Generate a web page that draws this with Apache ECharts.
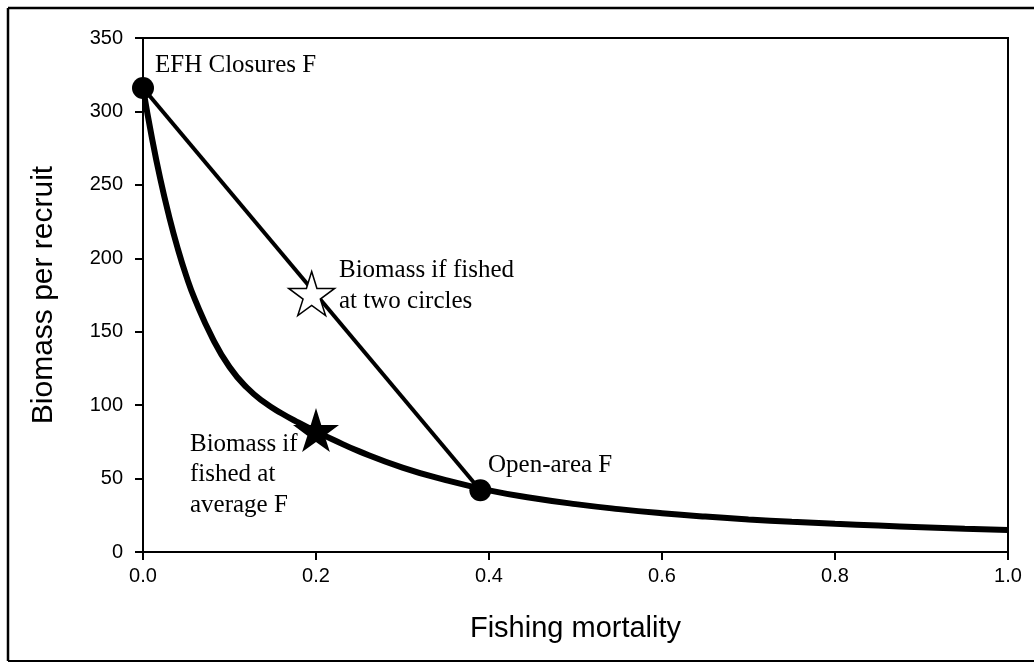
<!DOCTYPE html>
<html>
<head>
<meta charset="utf-8">
<script src="https://cdn.jsdelivr.net/npm/echarts@6/dist/echarts.min.js"></script>
<style>
  html, body { margin: 0; padding: 0; background: #fff; }
  #chart { width: 1034px; height: 663px; }
</style>
</head>
<body>
<div id="chart"></div>
<script>
// biomass per recruit curve
const fishingF = [0, 0.01, 0.02, 0.03, 0.04, 0.05, 0.06, 0.08, 0.1, 0.12, 0.14, 0.16, 0.18, 0.2, 0.22, 0.25, 0.3, 0.35, 0.4, 0.45, 0.5, 0.55, 0.6, 0.65, 0.7, 0.75, 0.8, 0.85, 0.9, 0.95, 1.0];
const biomass = [316, 283, 254, 229, 207, 188, 172, 146, 126, 112, 102, 94.5, 88, 82, 76.4, 68.5, 57.5, 49, 42, 36.8, 32.6, 29.2, 26.4, 24.1, 22.2, 20.6, 19.2, 18, 16.9, 15.9, 15];

// the two areas (closures and open area) joined by a straight line
const circleF = [0, 0.39];
const circleB = [316, 42];

// stars
const twoCirclesStar = [0.195, 176];
const averageStar = [0.2, 83];

const xTicks = [0, 0.2, 0.4, 0.6, 0.8, 1.0];
const yTicks = [0, 50, 100, 150, 200, 250, 300, 350];

const starPath = "path://M50,0 L61,35 L98,35 L68,57 L79,91 L50,70 L21,91 L32,57 L2,35 L39,35 Z";
const serif = "'Liberation Serif', 'Times New Roman', serif";
const sans = "'Liberation Sans', Arial, sans-serif";

const chart = echarts.init(document.getElementById("chart"));

function note(text, x, y) {
  return {
    type: "text",
    x: x,
    y: y,
    style: { text: text, font: "25px " + serif, fill: "#000", verticalAlign: "middle", align: "left" },
    z: 10,
  };
}

const option = {
  animation: false,
  backgroundColor: "#fff",
  grid: {
    left: 143, right: 26, top: 38, bottom: 111,
    show: true, borderColor: "#000", borderWidth: 2,
  },
  xAxis: {
    type: "value",
    min: 0, max: 1, interval: 0.2,
    name: "Fishing mortality",
    nameLocation: "middle",
    nameGap: 62,
    nameTextStyle: { fontFamily: sans, fontSize: 29, color: "#000" },
    axisLine: { lineStyle: { color: "#000", width: 2 } },
    axisTick: { show: true, length: 8, lineStyle: { color: "#000", width: 2 } },
    axisLabel: {
      color: "#000", fontFamily: sans, fontSize: 20, margin: 14,
      formatter: (v) => (xTicks.includes(+v.toFixed(1)) ? v.toFixed(1) : ""),
    },
    splitLine: { show: false },
  },
  yAxis: {
    type: "value",
    min: 0, max: 350, interval: 50,
    name: "Biomass per recruit",
    nameLocation: "middle",
    nameGap: 84,
    nameTextStyle: { fontFamily: sans, fontSize: 30, color: "#000" },
    axisLine: { show: true, lineStyle: { color: "#000", width: 2 } },
    axisTick: { show: true, length: 8, lineStyle: { color: "#000", width: 2 } },
    axisLabel: {
      color: "#000", fontFamily: sans, fontSize: 20, margin: 20,
      formatter: (v) => (yTicks.includes(v) ? String(v) : ""),
    },
    splitLine: { show: false },
  },
  graphic: [
    // outer frame of the scanned figure
    { type: "line", shape: { x1: 8, y1: 8, x2: 1034, y2: 8 }, style: { stroke: "#000", lineWidth: 2.5 } },
    { type: "line", shape: { x1: 8, y1: 8, x2: 8, y2: 661 }, style: { stroke: "#000", lineWidth: 2.5 } },
    { type: "line", shape: { x1: 8, y1: 661, x2: 1034, y2: 661 }, style: { stroke: "#000", lineWidth: 2 } },
    note("EFH Closures F", 155, 65),
    note("Biomass if fished", 339, 270),
    note("at two circles", 339, 301),
    note("Biomass if", 190, 444),
    note("fished at", 190, 474),
    note("average F", 190, 505),
    note("Open-area F", 488, 465),
  ],
  series: [
    {
      name: "Biomass per recruit",
      type: "line",
      smooth: true,
      symbol: "none",
      lineStyle: { color: "#000", width: 6 },
      data: fishingF.map((f, i) => [f, biomass[i]]),
      z: 2,
    },
    {
      name: "Two circles",
      type: "line",
      symbol: "none",
      lineStyle: { color: "#000", width: 4 },
      data: circleF.map((f, i) => [f, circleB[i]]),
      z: 2,
    },
    {
      name: "Circles",
      type: "scatter",
      symbol: "circle",
      symbolSize: 22,
      itemStyle: { color: "#000", opacity: 1 },
      data: circleF.map((f, i) => [f, circleB[i]]),
      z: 5,
    },
    {
      name: "Two-circle star",
      type: "scatter",
      symbol: starPath,
      symbolSize: [46, 44],
      itemStyle: { color: "#fff", borderColor: "#000", borderWidth: 1.5, opacity: 1 },
      data: [twoCirclesStar],
      z: 5,
    },
    {
      name: "Average star",
      type: "scatter",
      symbol: starPath,
      symbolSize: [46, 44],
      itemStyle: { color: "#000", opacity: 1 },
      data: [averageStar],
      z: 5,
    },
  ],
};

chart.setOption(option);
</script>
</body>
</html>
